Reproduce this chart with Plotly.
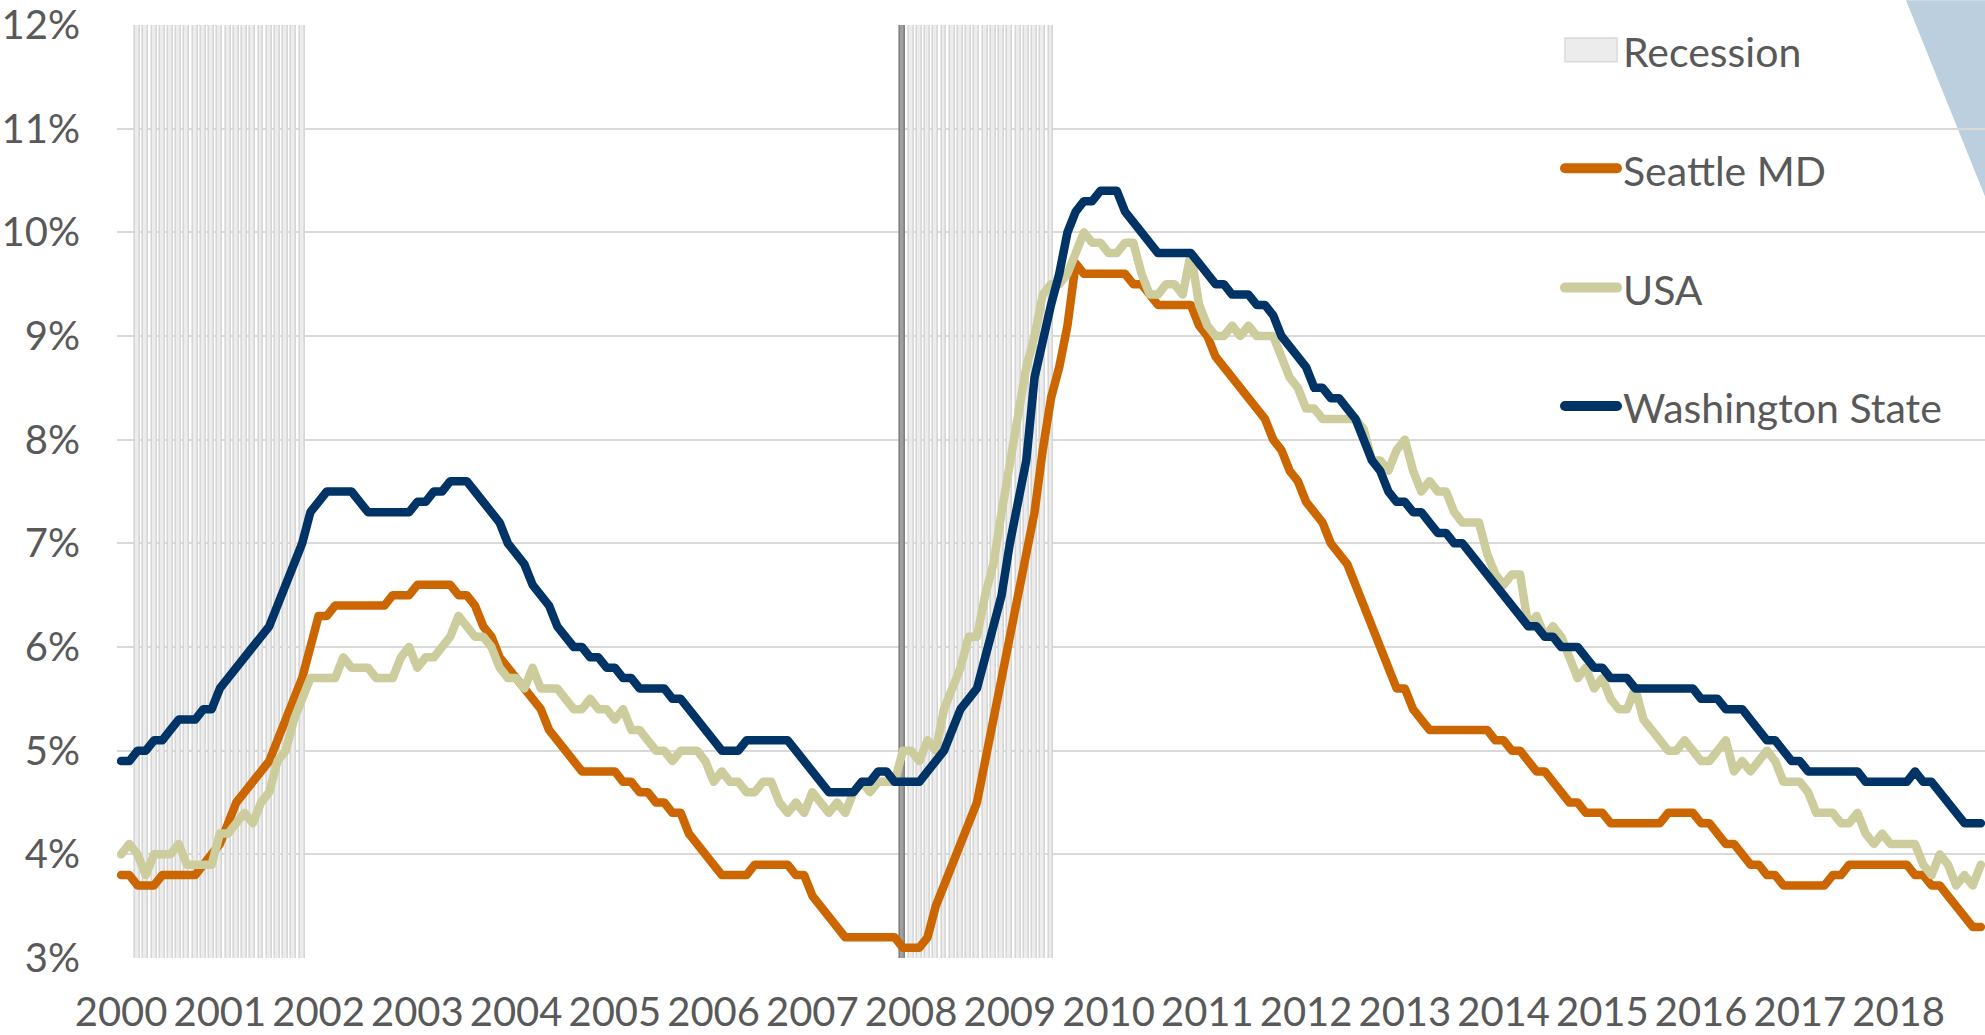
import plotly.graph_objects as go

# ---------------- data ----------------
years = list(range(2000, 2019))
year_labels = [str(y) for y in years]

washington = [
    4.9, 4.9, 5.0, 5.0, 5.1, 5.1, 5.2, 5.3, 5.3, 5.3, 5.4, 5.4,   # 2000
    5.6, 5.7, 5.8, 5.9, 6.0, 6.1, 6.2, 6.4, 6.6, 6.8, 7.0, 7.3,   # 2001
    7.4, 7.5, 7.5, 7.5, 7.5, 7.4, 7.3, 7.3, 7.3, 7.3, 7.3, 7.3,   # 2002
    7.4, 7.4, 7.5, 7.5, 7.6, 7.6, 7.6, 7.5, 7.4, 7.3, 7.2, 7.0,   # 2003
    6.9, 6.8, 6.6, 6.5, 6.4, 6.2, 6.1, 6.0, 6.0, 5.9, 5.9, 5.8,   # 2004
    5.8, 5.7, 5.7, 5.6, 5.6, 5.6, 5.6, 5.5, 5.5, 5.4, 5.3, 5.2,   # 2005
    5.1, 5.0, 5.0, 5.0, 5.1, 5.1, 5.1, 5.1, 5.1, 5.1, 5.0, 4.9,   # 2006
    4.8, 4.7, 4.6, 4.6, 4.6, 4.6, 4.7, 4.7, 4.8, 4.8, 4.7, 4.7,   # 2007
    4.7, 4.7, 4.8, 4.9, 5.0, 5.2, 5.4, 5.5, 5.6, 5.9, 6.2, 6.5,   # 2008
    7.0, 7.4, 7.8, 8.6, 9.0, 9.3, 9.6, 10.0, 10.2, 10.3, 10.3, 10.4,  # 2009
    10.4, 10.4, 10.2, 10.1, 10.0, 9.9, 9.8, 9.8, 9.8, 9.8, 9.8, 9.7,  # 2010
    9.6, 9.5, 9.5, 9.4, 9.4, 9.4, 9.3, 9.3, 9.2, 9.0, 8.9, 8.8,   # 2011
    8.7, 8.5, 8.5, 8.4, 8.4, 8.3, 8.2, 8.0, 7.8, 7.7, 7.5, 7.4,   # 2012
    7.4, 7.3, 7.3, 7.2, 7.1, 7.1, 7.0, 7.0, 6.9, 6.8, 6.7, 6.6,   # 2013
    6.5, 6.4, 6.3, 6.2, 6.2, 6.1, 6.1, 6.0, 6.0, 6.0, 5.9, 5.8,   # 2014
    5.8, 5.7, 5.7, 5.7, 5.6, 5.6, 5.6, 5.6, 5.6, 5.6, 5.6, 5.6,   # 2015
    5.5, 5.5, 5.5, 5.4, 5.4, 5.4, 5.3, 5.2, 5.1, 5.1, 5.0, 4.9,   # 2016
    4.9, 4.8, 4.8, 4.8, 4.8, 4.8, 4.8, 4.8, 4.7, 4.7, 4.7, 4.7,   # 2017
    4.7, 4.7, 4.8, 4.7, 4.7, 4.6, 4.5, 4.4, 4.3, 4.3, 4.3,        # 2018
]

seattle = [
    3.8, 3.8, 3.7, 3.7, 3.7, 3.8, 3.8, 3.8, 3.8, 3.8, 3.9, 4.0,   # 2000
    4.1, 4.3, 4.5, 4.6, 4.7, 4.8, 4.9, 5.1, 5.3, 5.5, 5.7, 6.0,   # 2001
    6.3, 6.3, 6.4, 6.4, 6.4, 6.4, 6.4, 6.4, 6.4, 6.5, 6.5, 6.5,   # 2002
    6.6, 6.6, 6.6, 6.6, 6.6, 6.5, 6.5, 6.4, 6.2, 6.1, 5.9, 5.8,   # 2003
    5.7, 5.6, 5.5, 5.4, 5.2, 5.1, 5.0, 4.9, 4.8, 4.8, 4.8, 4.8,   # 2004
    4.8, 4.7, 4.7, 4.6, 4.6, 4.5, 4.5, 4.4, 4.4, 4.2, 4.1, 4.0,   # 2005
    3.9, 3.8, 3.8, 3.8, 3.8, 3.9, 3.9, 3.9, 3.9, 3.9, 3.8, 3.8,   # 2006
    3.6, 3.5, 3.4, 3.3, 3.2, 3.2, 3.2, 3.2, 3.2, 3.2, 3.2, 3.1,   # 2007
    3.1, 3.1, 3.2, 3.5, 3.7, 3.9, 4.1, 4.3, 4.5, 4.9, 5.3, 5.7,   # 2008
    6.0, 6.4, 6.8, 7.3, 7.9, 8.4, 8.7, 9.1, 9.7, 9.6, 9.6, 9.6,   # 2009
    9.6, 9.6, 9.6, 9.5, 9.5, 9.4, 9.3, 9.3, 9.3, 9.3, 9.3, 9.1,   # 2010
    9.0, 8.8, 8.7, 8.6, 8.5, 8.4, 8.3, 8.2, 8.0, 7.9, 7.7, 7.6,   # 2011
    7.4, 7.3, 7.2, 7.0, 6.9, 6.8, 6.6, 6.4, 6.2, 6.0, 5.8, 5.6,   # 2012
    5.6, 5.4, 5.3, 5.2, 5.2, 5.2, 5.2, 5.2, 5.2, 5.2, 5.2, 5.1,   # 2013
    5.1, 5.0, 5.0, 4.9, 4.8, 4.8, 4.7, 4.6, 4.5, 4.5, 4.4, 4.4,   # 2014
    4.4, 4.3, 4.3, 4.3, 4.3, 4.3, 4.3, 4.3, 4.4, 4.4, 4.4, 4.4,   # 2015
    4.3, 4.3, 4.2, 4.1, 4.1, 4.0, 3.9, 3.9, 3.8, 3.8, 3.7, 3.7,   # 2016
    3.7, 3.7, 3.7, 3.7, 3.8, 3.8, 3.9, 3.9, 3.9, 3.9, 3.9, 3.9,   # 2017
    3.9, 3.9, 3.8, 3.8, 3.7, 3.7, 3.6, 3.5, 3.4, 3.3, 3.3,        # 2018
]

usa = [
    4.0, 4.1, 4.0, 3.8, 4.0, 4.0, 4.0, 4.1, 3.9, 3.9, 3.9, 3.9,   # 2000
    4.2, 4.2, 4.3, 4.4, 4.3, 4.5, 4.6, 4.9, 5.0, 5.3, 5.5, 5.7,   # 2001
    5.7, 5.7, 5.7, 5.9, 5.8, 5.8, 5.8, 5.7, 5.7, 5.7, 5.9, 6.0,   # 2002
    5.8, 5.9, 5.9, 6.0, 6.1, 6.3, 6.2, 6.1, 6.1, 6.0, 5.8, 5.7,   # 2003
    5.7, 5.6, 5.8, 5.6, 5.6, 5.6, 5.5, 5.4, 5.4, 5.5, 5.4, 5.4,   # 2004
    5.3, 5.4, 5.2, 5.2, 5.1, 5.0, 5.0, 4.9, 5.0, 5.0, 5.0, 4.9,   # 2005
    4.7, 4.8, 4.7, 4.7, 4.6, 4.6, 4.7, 4.7, 4.5, 4.4, 4.5, 4.4,   # 2006
    4.6, 4.5, 4.4, 4.5, 4.4, 4.6, 4.7, 4.6, 4.7, 4.7, 4.7, 5.0,   # 2007
    5.0, 4.9, 5.1, 5.0, 5.4, 5.6, 5.8, 6.1, 6.1, 6.5, 6.8, 7.3,   # 2008
    7.8, 8.3, 8.7, 9.0, 9.4, 9.5, 9.5, 9.6, 9.8, 10.0, 9.9, 9.9,  # 2009
    9.8, 9.8, 9.9, 9.9, 9.6, 9.4, 9.4, 9.5, 9.5, 9.4, 9.8, 9.3,   # 2010
    9.1, 9.0, 9.0, 9.1, 9.0, 9.1, 9.0, 9.0, 9.0, 8.8, 8.6, 8.5,   # 2011
    8.3, 8.3, 8.2, 8.2, 8.2, 8.2, 8.2, 8.1, 7.8, 7.8, 7.7, 7.9,   # 2012
    8.0, 7.7, 7.5, 7.6, 7.5, 7.5, 7.3, 7.2, 7.2, 7.2, 6.9, 6.7,   # 2013
    6.6, 6.7, 6.7, 6.2, 6.3, 6.1, 6.2, 6.1, 5.9, 5.7, 5.8, 5.6,   # 2014
    5.7, 5.5, 5.4, 5.4, 5.6, 5.3, 5.2, 5.1, 5.0, 5.0, 5.1, 5.0,   # 2015
    4.9, 4.9, 5.0, 5.1, 4.8, 4.9, 4.8, 4.9, 5.0, 4.9, 4.7, 4.7,   # 2016
    4.7, 4.6, 4.4, 4.4, 4.4, 4.3, 4.3, 4.4, 4.2, 4.1, 4.2, 4.1,   # 2017
    4.1, 4.1, 4.1, 3.9, 3.8, 4.0, 3.9, 3.7, 3.8, 3.7, 3.9,        # 2018
]

recession_periods = [("2000-03", "2001-11"), ("2007-12", "2009-06")]
recession_marker_month = "2007-12"
recession_top = 12

# ---------------- build ----------------
n = len(washington)
month_keys = [f"{y}-{m:02d}" for y in years for m in range(1, 13)][:n]
x = list(range(n))

rec_y, rec_fill, rec_line = [], [], []
for k in month_keys:
    inside = any(a <= k <= b for a, b in recession_periods)
    rec_y.append(recession_top if inside else None)
    if k == recession_marker_month:
        rec_fill.append("#a0a0a0")
        rec_line.append("#808080")
    else:
        rec_fill.append("#ececec")
        rec_line.append("#d6d6d6")

FONT = "Lato, 'Open Sans', sans-serif"
TXT = "#595959"
W, H = 1985, 1035
ML, MR, MT, MB = 117, 0, 25, 72
PW, PH = W - ML - MR, H - MT - MB

def px(xp):
    return (xp - ML) / PW

def py(yp):
    return (H - MB - yp) / PH

fig = go.Figure()
fig.add_trace(go.Bar(x=x, y=rec_y, name="Recession", width=0.6,
                     marker=dict(color=rec_fill, line=dict(color=rec_line, width=1.6)),
                     showlegend=False, hoverinfo="skip"))

series = [("Seattle MD", seattle, "#CC6600"),
          ("USA", usa, "#CCCC9C"),
          ("Washington State", washington, "#003366")]
for name, vals, col in series:
    fig.add_trace(go.Scatter(x=x, y=vals, name=name, mode="lines",
                             line=dict(color=col, width=8.5), showlegend=False))

shapes = []
# decorative corner triangle
shapes.append(dict(type="path", xref="paper", yref="paper", layer="below",
                   path=f"M {px(1906)} {py(0)} L {px(1990)} {py(0)} L {px(1990)} {py(210)} Z",
                   fillcolor="#bccfde", line=dict(width=0)))
# legend swatches
shapes.append(dict(type="rect", xref="paper", yref="paper",
                   x0=px(1565), x1=px(1617), y0=py(62), y1=py(38),
                   fillcolor="#ececec", line=dict(color="#d9d9d9", width=1.5)))
annotations = [dict(text="Recession", xref="paper", yref="paper", x=px(1621), y=py(52),
                    xanchor="left", yanchor="middle", showarrow=False,
                    font=dict(family=FONT, size=41, color=TXT))]
for (name, vals, col), ypx in zip(series, [169, 289, 408]):
    shapes.append(dict(type="line", xref="paper", yref="paper",
                       x0=px(1565), x1=px(1617), y0=py(ypx), y1=py(ypx),
                       line=dict(color=col, width=10)))
    annotations.append(dict(text=name, xref="paper", yref="paper", x=px(1621), y=py(ypx + 2),
                            xanchor="left", yanchor="middle", showarrow=False,
                            font=dict(family=FONT, size=41, color=TXT)))

fig.update_layout(
    width=W, height=H,
    margin=dict(l=ML, r=MR, t=MT, b=MB, pad=0),
    paper_bgcolor="white", plot_bgcolor="rgba(0,0,0,0)",
    font=dict(family=FONT, size=40, color=TXT),
    barmode="overlay", bargap=0,
    shapes=shapes, annotations=annotations,
    xaxis=dict(range=[-0.5, n - 0.5], tickvals=x[::12], ticktext=year_labels,
               showgrid=False, zeroline=False, showline=False, ticks="",
               ticklabelstandoff=27, tickfont=dict(family=FONT, size=40, color=TXT)),
    yaxis=dict(range=[3, 12], dtick=1, ticksuffix="%", showgrid=True,
               gridcolor="#d9d9d9", gridwidth=2, zeroline=False, showline=False,
               ticks="", ticklabelstandoff=36,
               tickfont=dict(family=FONT, size=40, color=TXT)),
)

post = """
document.body.style.margin='0';
var st=document.createElement('style');
st.innerHTML='.scatterlayer .js-line{stroke-linejoin:round !important;stroke-linecap:round !important;} .shapelayer path{stroke-linecap:round;}';
document.head.appendChild(st);
"""
fig.write_html("out.html", config={"displayModeBar": False}, post_script=post)
